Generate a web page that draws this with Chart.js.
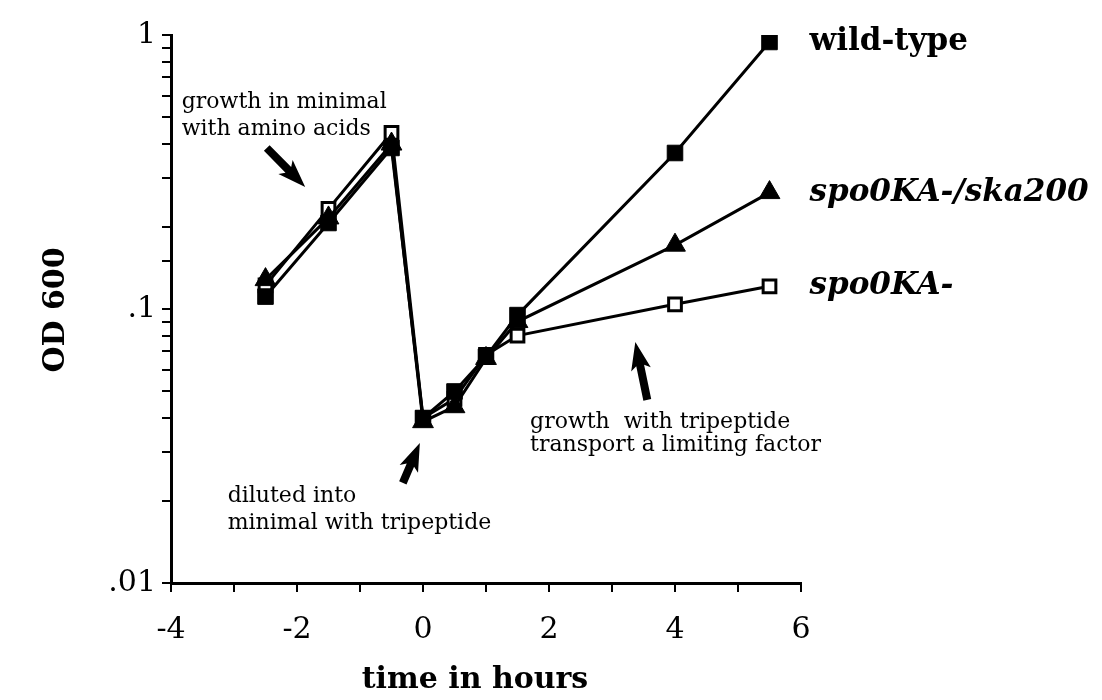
<!DOCTYPE html>
<html>
<head>
<meta charset="utf-8">
<script src="https://cdn.jsdelivr.net/npm/chart.js@4/dist/chart.umd.min.js"></script>
<style>
  html, body { margin: 0; padding: 0; background: #fff; }
  #wrap { width: 1102px; height: 700px; }
</style>
</head>
<body>
<div id="wrap"><canvas id="growth" width="1102" height="700"></canvas></div>
<script>
// time points (hours)
var hours = [-2.5, -1.5, -0.5, 0, 0.5, 1, 1.5, 4, 5.5];

// OD 600 readings
var wildType = [0.111, 0.206, 0.387, 0.040, 0.050, 0.067, 0.095, 0.371, 0.943];
var ska200   = [0.128, 0.215, 0.400, 0.0388, 0.044, 0.066, 0.090, 0.171, 0.266];
var spo0KA   = [0.122, 0.232, 0.439, 0.040, 0.047, 0.068, 0.080, 0.104, 0.121];

var seriesNames = ['wild-type', 'spo0KA-/ska200', 'spo0KA-'];
var xTicks = [-4, -2, 0, 2, 4, 6];
var yTicks = [0.01, 0.1, 1];

var serif = '"DejaVu Serif", "Liberation Serif", serif';

var toPoints = function(ys){
    return hours.map(function(h, i){ return {x: h, y: ys[i]}; });
};

// notes on the plot, placed in data units
var notes = [
    {lines: ['growth in minimal', 'with amino acids'], x: -3.83, y: 0.54, gap: 27},
    {lines: ['diluted into', 'minimal with tripeptide'], x: -3.10, y: 0.0198, gap: 27},
    {lines: ['growth  with tripeptide', 'transport a limiting factor'], x: 1.70, y: 0.0368, gap: 23}
];
var arrows = [
    {from: [-2.48, 0.387], to: [-1.87, 0.279]},
    {from: [-0.32, 0.0232], to: [-0.05, 0.0324]},
    {from: [3.56, 0.0466], to: [3.37, 0.0758]}
];

var decorations = {
    id: 'decorations',
    afterDatasetsDraw: function(chart){
        var ctx = chart.ctx, xs = chart.scales.x, ys = chart.scales.y;
        ctx.save();
        ctx.fillStyle = '#000';

        // text notes
        ctx.font = '22px ' + serif;
        ctx.textAlign = 'left';
        ctx.textBaseline = 'alphabetic';
        notes.forEach(function(n){
            var px = xs.getPixelForValue(n.x), py = ys.getPixelForValue(n.y);
            n.lines.forEach(function(t, i){ ctx.fillText(t, px, py + i * n.gap); });
        });

        // arrows
        arrows.forEach(function(a){
            var x0 = xs.getPixelForValue(a.from[0]), y0 = ys.getPixelForValue(a.from[1]);
            var x1 = xs.getPixelForValue(a.to[0]), y1 = ys.getPixelForValue(a.to[1]);
            var ang = Math.atan2(y1 - y0, x1 - x0), len = Math.hypot(x1 - x0, y1 - y0);
            ctx.save();
            ctx.translate(x0, y0);
            ctx.rotate(ang);
            ctx.beginPath();
            ctx.moveTo(0, -4);
            ctx.lineTo(len - 24, -4);
            ctx.lineTo(len - 28, -10);
            ctx.lineTo(len, 0);
            ctx.lineTo(len - 28, 10);
            ctx.lineTo(len - 24, 4);
            ctx.lineTo(0, 4);
            ctx.closePath();
            ctx.fill();
            ctx.restore();
        });

        // series names next to the last point
        ctx.textBaseline = 'middle';
        chart.data.datasets.forEach(function(ds, i){
            var meta = chart.getDatasetMeta(i);
            var last = meta.data[meta.data.length - 1];
            ctx.font = (i === 0 ? 'bold ' : 'italic bold ') + '31px ' + serif;
            ctx.fillText(ds.label, last.x + 40, last.y);
        });

        // axis titles
        ctx.font = 'bold 30px ' + serif;
        ctx.textAlign = 'center';
        ctx.fillText('time in hours', 475, 680);
        ctx.save();
        ctx.translate(56, 310);
        ctx.rotate(-Math.PI / 2);
        ctx.fillText('OD 600', 0, 0);
        ctx.restore();

        ctx.restore();
    }
};

var ctx = document.getElementById('growth').getContext('2d');
var chart = new Chart(ctx, {
    type: 'scatter',
    data: {
        datasets: [{
            label: seriesNames[0],
            data: toPoints(wildType),
            showLine: true,
            borderColor: '#000',
            backgroundColor: '#000',
            borderWidth: 3,
            pointStyle: 'rect',
            pointRadius: 11,
            pointBorderWidth: 1,
            pointBackgroundColor: '#000'
        }, {
            label: seriesNames[1],
            data: toPoints(ska200),
            showLine: true,
            borderColor: '#000',
            backgroundColor: '#000',
            borderWidth: 3,
            pointStyle: 'triangle',
            pointRadius: 12,
            pointBorderWidth: 1,
            pointBackgroundColor: '#000'
        }, {
            label: seriesNames[2],
            data: toPoints(spo0KA),
            showLine: true,
            borderColor: '#000',
            backgroundColor: '#fff',
            borderWidth: 3,
            pointStyle: 'rect',
            pointRadius: 9,
            pointBorderWidth: 3,
            pointBackgroundColor: '#fff'
        }]
    },
    options: {
        responsive: false,
        animation: false,
        devicePixelRatio: 1,
        layout: { padding: { left: 0, right: 301, top: 35, bottom: 0 } },
        plugins: {
            legend: { display: false },
            tooltip: { enabled: false }
        },
        scales: {
            x: {
                type: 'linear',
                min: -4, max: 6,
                afterFit: function(s){ s.height = 117; },
                ticks: {
                    stepSize: 1,
                    color: '#000',
                    padding: 20,
                    font: { family: serif, size: 30 },
                    callback: function(v){ return xTicks.indexOf(v) >= 0 ? String(v) : ''; }
                },
                grid: { drawOnChartArea: false, color: '#000', lineWidth: 2, tickLength: 9 },
                border: { color: '#000', width: 3 }
            },
            y: {
                type: 'logarithmic',
                min: 0.01, max: 1,
                afterFit: function(s){ s.width = 171; },
                ticks: {
                    autoSkip: false,
                    color: '#000',
                    padding: 6,
                    font: { family: serif, size: 30 },
                    callback: function(v){
                        for (var i = 0; i < yTicks.length; i++) {
                            if (Math.abs(v - yTicks[i]) < 1e-9) return String(yTicks[i]).replace(/^0/, '');
                        }
                        return '';
                    }
                },
                grid: { drawOnChartArea: false, color: '#000', lineWidth: 2, tickLength: 9 },
                border: { color: '#000', width: 3 }
            }
        }
    },
    plugins: [decorations]
});
</script>
</body>
</html>
